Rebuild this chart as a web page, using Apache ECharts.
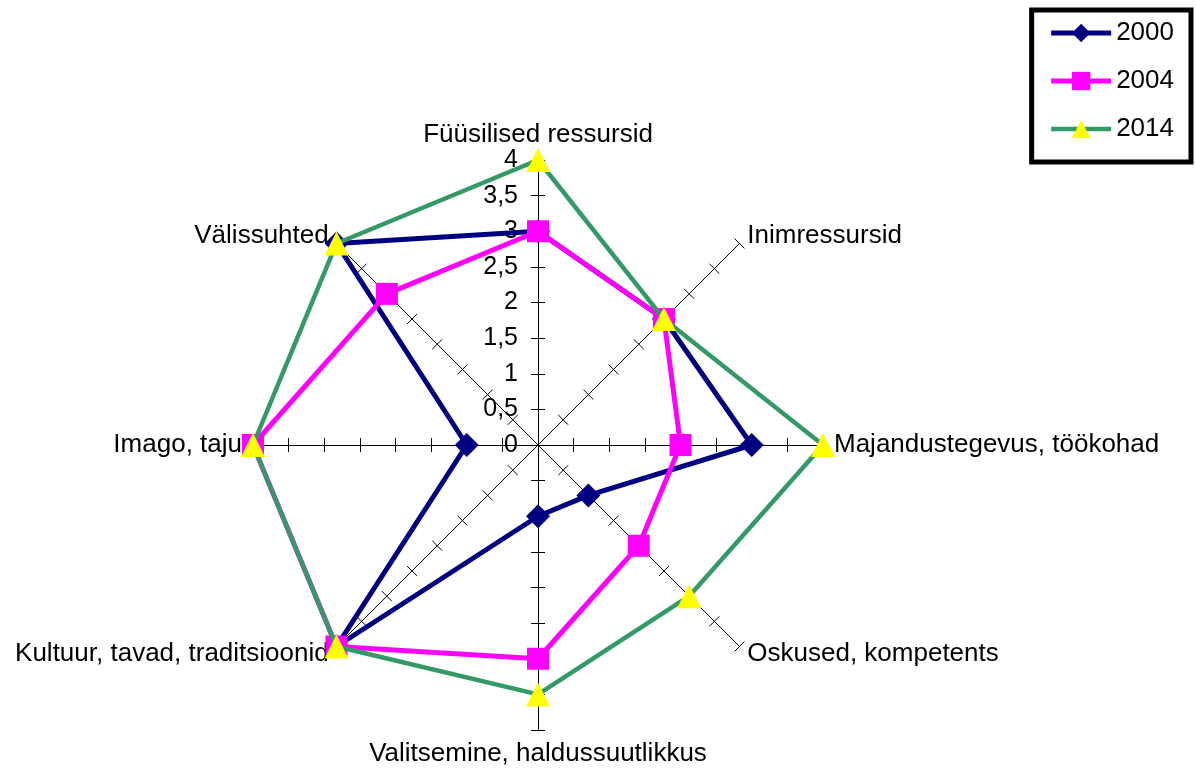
<!DOCTYPE html>
<html>
<head>
<meta charset="utf-8">
<script src="https://cdn.jsdelivr.net/npm/echarts@6/dist/echarts.min.js"></script>
<style>
  html, body { margin: 0; padding: 0; background: #fff; }
  #Charts1 { width: 1196px; height: 772px; }
</style>
</head>
<body>
<div id="Charts1"></div>
<script>
// telgede nimed, kellaosuti suunas alates ülevalt
var categories = ['Füüsilised ressursid', 'Inimressursid', 'Majandustegevus, töökohad',
  'Oskused, kompetents', 'Valitsemine, haldussuutlikkus', 'Kultuur, tavad, traditsioonid',
  'Imago, taju', 'Välissuhted'];
var years = ['2000', '2004', '2014'];
var v2000 = [3, 2.5, 3, 1, 1, 4, 1, 4];
var v2004 = [3, 2.5, 2, 2, 3, 4, 4, 3];
var v2014 = [4, 2.5, 4, 3, 3.5, 4, 4, 4];
var axisMax = 4;
var axisSplit = 8;

var FONT = 'Arial, "Liberation Sans", sans-serif';

// echarts radar käib vastupäeva -> pöörame järjekorra
function ccw(arr) {
  var out = [arr[0]];
  for (var i = arr.length - 1; i > 0; i--) out.push(arr[i]);
  return out;
}

var indicators = ccw(categories).map(function (name, i) {
  var ind = { name: name, min: 0, max: axisMax };
  if (i == 0) ind.axisLabel = { show: true }; // skaala ainult ülemisel teljel
  return ind;
});
var indicatorsPlain = ccw(categories).map(function (name) {
  return { name: name, min: 0, max: axisMax };
});

var looks = [
  { line: '#000080', fill: '#000080', symbol: 'diamond', size: 24, width: 5 },
  { line: '#ff00ff', fill: '#ff00ff', symbol: 'rect', size: 22, width: 5 },
  { line: '#339966', fill: '#ffff00', symbol: 'triangle', size: 24, width: 4.5 }
];
var values = [v2000, v2004, v2014];

var myChart = echarts.init(document.getElementById('Charts1'));

var series = [];
// tühjad joonseeriad ainult legendi ikooni jaoks (joon + marker)
years.forEach(function (y, k) {
  series.push({
    name: y, type: 'line', data: [],
    symbol: looks[k].symbol,
    lineStyle: { color: looks[k].line, width: looks[k].width },
    itemStyle: { color: looks[k].fill }
  });
});
years.forEach(function (y, k) {
  series.push({
    name: y, type: 'radar', radarIndex: 0,
    symbol: looks[k].symbol, symbolSize: looks[k].size,
    lineStyle: { color: looks[k].line, width: looks[k].width },
    itemStyle: { color: looks[k].fill },
    data: [{ name: y, value: ccw(values[k]) }],
    z: 3 + k
  });
});

var option = {
  animation: false,
  textStyle: { fontFamily: FONT },
  grid: { show: false, left: 0, top: 0, width: 10, height: 10 },
  xAxis: { show: false, type: 'category' },
  yAxis: { show: false },
  legend: {
    data: years.map(function (y, k) {
      return { name: y, lineStyle: { width: looks[k].width } };
    }),
    orient: 'vertical',
    right: 5,
    top: 10,
    padding: [10, 17, 20, 17],
    itemWidth: 60,
    itemHeight: 23,
    itemGap: 22,
    borderColor: '#000',
    borderWidth: 5,
    textStyle: { fontSize: 26, color: '#000', fontFamily: FONT }
  },
  radar: [
    {
      center: [538, 445],
      radius: 285,
      startAngle: 90,
      splitNumber: axisSplit,
      indicator: indicators,
      nameGap: 11,
      axisName: { color: '#000', fontSize: 26, fontFamily: FONT },
      axisLine: { lineStyle: { color: '#000', width: 1 } },
      axisTick: { show: true, length: 7, lineStyle: { color: '#000', width: 1 } },
      axisLabel: {
        show: false, color: '#000', fontSize: 25, fontFamily: FONT, margin: 20,
        formatter: function (a) { return String(a).replace('.', ','); }
      },
      splitLine: { show: false },
      splitArea: { show: false }
    },
    {
      // teine kord sama telg, kriipsud teisele poole joont
      center: [538, 445],
      radius: 285,
      startAngle: 90,
      splitNumber: axisSplit,
      indicator: indicatorsPlain,
      axisName: { show: false },
      axisLine: { show: false },
      axisTick: { show: true, length: -7, lineStyle: { color: '#000', width: 1 } },
      axisLabel: { show: false },
      splitLine: { show: false },
      splitArea: { show: false }
    }
  ],
  series: series
};

myChart.setOption(option);
</script>
</body>
</html>
